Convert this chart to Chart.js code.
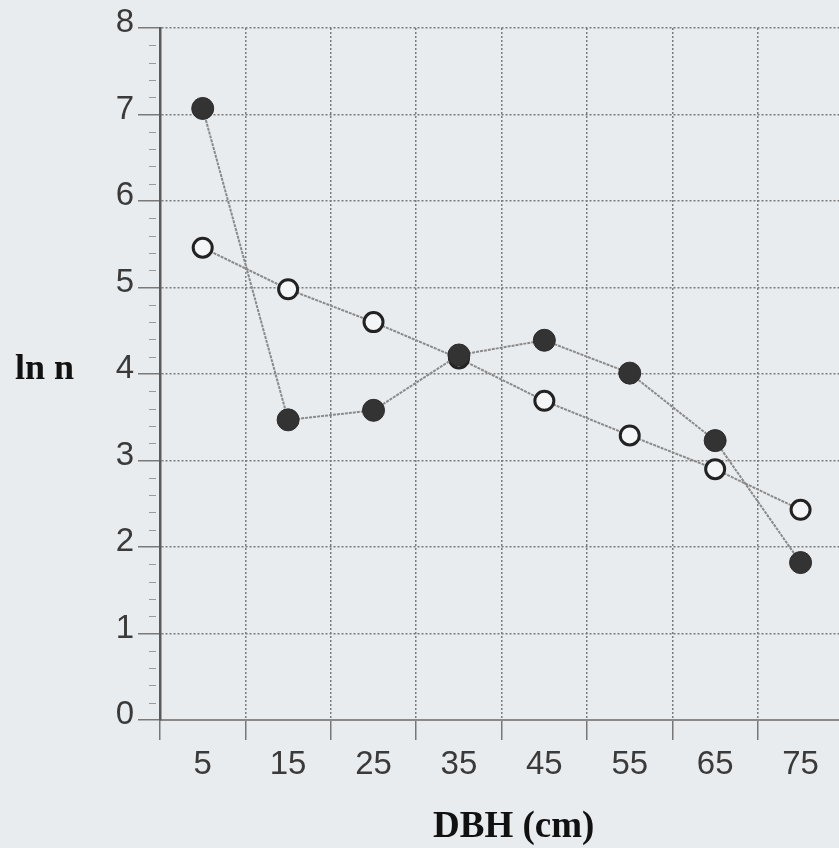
<!DOCTYPE html>
<html>
<head>
<meta charset="utf-8">
<script src="https://cdn.jsdelivr.net/npm/chart.js@4.4.1/dist/chart.umd.min.js"></script>
<style>
  html, body { margin:0; padding:0; background:#e9ecef; overflow:hidden; }
  #wrap { position:relative; width:839px; height:848px; }
  canvas { position:absolute; left:0; top:0; }
  .t { position:absolute; font-family:"Liberation Serif","Times New Roman",serif; font-weight:bold; color:#111; white-space:nowrap; }
</style>
</head>
<body>
<div id="wrap">
  <canvas id="c" width="839" height="848"></canvas>
  <div class="t" id="ytitle" style="left:15px; top:346px; font-size:36px;">ln n</div>
  <div class="t" id="xtitle" style="left:433px; top:803px; font-size:37px;">DBH (cm)</div>
</div>
<script>
const dbhClasses = [5, 15, 25, 35, 45, 55, 65, 75];
const filledSeries = [7.07, 3.47, 3.58, 4.22, 4.39, 4.01, 3.23, 1.82];
const openSeries   = [5.46, 4.98, 4.60, 4.18, 3.69, 3.29, 2.90, 2.43];
const xTickValues = [0, 5, 10, 15, 20, 25, 30, 35, 40, 45, 50, 55, 60, 65, 70, 75];
const yTickLabels = ['0','1','2','3','4','5','6','7','8'];

const gridGray = '#7a7a7a';

const minorTicks = {
  id: 'minorTicks',
  afterDraw(chart) {
    const y = chart.scales.y;
    const ctx = chart.ctx;
    ctx.save();
    ctx.strokeStyle = '#9a9a9a';
    ctx.lineWidth = 1;
    for (let i = 0; i <= 40; i++) {
      if (i % 5 === 0) continue;
      const py = Math.round(y.getPixelForValue(i / 5)) + 0.5;
      ctx.beginPath();
      ctx.moveTo(149, py);
      ctx.lineTo(156, py);
      ctx.stroke();
    }
    ctx.restore();
  }
};

new Chart(document.getElementById('c'), {
  type: 'line',
  data: {
    datasets: [
      {
        data: dbhClasses.map((x, i) => ({x, y: filledSeries[i]})),
        borderColor: '#8a8a8a',
        borderWidth: 2,
        borderDash: [3, 1],
        pointRadius: 11,
        pointBackgroundColor: '#333333',
        pointBorderColor: '#2a2a2a',
        pointBorderWidth: 1,
        tension: 0
      },
      {
        data: dbhClasses.map((x, i) => ({x, y: openSeries[i]})),
        borderColor: '#8a8a8a',
        borderWidth: 2,
        borderDash: [3, 1],
        pointRadius: 9.5,
        pointBackgroundColor: '#f3f5f7',
        pointBorderColor: '#222222',
        pointBorderWidth: 3,
        tension: 0
      }
    ]
  },
  options: {
    responsive: false,
    animation: false,
    clip: false,
    layout: { autoPadding: false, padding: { left: 0, right: 0, top: 28, bottom: 0 } },
    plugins: { legend: { display: false }, tooltip: { enabled: false } },
    scales: {
      x: {
        type: 'linear',
        min: 0,
        max: 79.5,
        afterBuildTicks: (s) => { s.ticks = xTickValues.map(v => ({value: v})); },
        afterFit: (s) => { s.height = 128; s.paddingLeft = 0; s.paddingRight = 0; },
        grid: {
          color: (c) => (c.tick && c.tick.value % 10 === 0) ? gridGray : 'rgba(0,0,0,0)',
          tickColor: (c) => (c.tick && c.tick.value % 10 === 0) ? '#777' : 'rgba(0,0,0,0)',
          lineWidth: 1.5,
          tickLength: 20,
          tickWidth: 1.5
        },
        border: { color: '#8a8a8a', width: 2, dash: [2, 2] },
        ticks: {
          autoSkip: false,
          maxRotation: 0,
          padding: 5,
          color: '#3a3a3a',
          font: { family: '"Liberation Sans", Arial, sans-serif', size: 33 },
          callback: (v) => (v % 10 === 5) ? String(v) : ''
        }
      },
      y: {
        type: 'linear',
        min: 0,
        max: 8,
        afterBuildTicks: (s) => { s.ticks = yTickLabels.map((t, i) => ({value: i})); },
        afterFit: (s) => { s.width = 160; },
        grid: {
          color: gridGray,
          lineWidth: 1.5,
          tickLength: 22,
          tickColor: gridGray
        },
        border: { color: '#5a5a5a', width: 2.5, dash: [2, 2] },
        ticks: {
          padding: 4,
          labelOffset: -5,
          color: '#3a3a3a',
          font: { family: '"Liberation Sans", Arial, sans-serif', size: 33 },
          callback: (v, i) => yTickLabels[i]
        }
      }
    }
  },
  plugins: [minorTicks]
});
</script>
</body>
</html>
